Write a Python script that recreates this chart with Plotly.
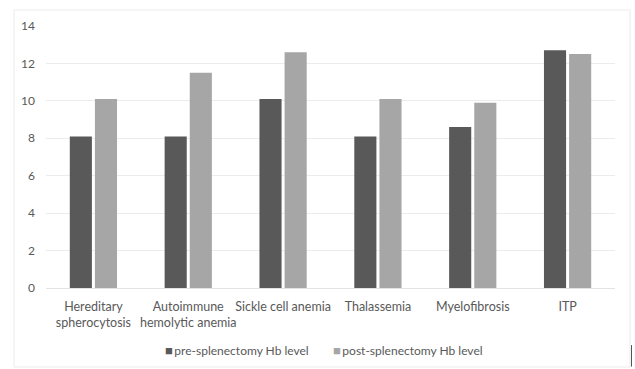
import plotly.graph_objects as go

# Hemoglobin levels before and after splenectomy, by diagnosis
categories = [
    "Hereditary<br>spherocytosis",
    "Autoimmune<br>hemolytic anemia",
    "Sickle cell anemia",
    "Thalassemia",
    "Myelofibrosis",
    "ITP",
]
pre_hb = [8.1, 8.1, 10.1, 8.1, 8.6, 12.7]
post_hb = [10.1, 11.5, 12.6, 10.1, 9.9, 12.5]
y_ticks = [0, 2, 4, 6, 8, 10, 12, 14]

series_names = ["pre-splenectomy Hb level", "post-splenectomy Hb level"]
series_colors = ["#595959", "#a6a6a6"]

FONT = "Lato"
TEXT_COLOR = "#595959"

fig = go.Figure()
for name, vals, color in zip(series_names, [pre_hb, post_hb], series_colors):
    fig.add_trace(go.Bar(
        x=categories, y=vals, name=name,
        marker=dict(color=color, line=dict(width=0)),
    ))

# compact legend: colored square glyph right next to each series name
legend_x = [0.335, 0.637]
annotations = [
    dict(
        xref="paper", yref="paper", x=lx, y=-0.2366,
        xanchor="center", yanchor="middle", showarrow=False,
        text=f"<span style='color:{c};font-size:13px'>■</span>\u2009{n}",
        font=dict(family=FONT, size=12, color=TEXT_COLOR),
    )
    for lx, n, c in zip(legend_x, series_names, series_colors)
]

fig.update_layout(
    width=635, height=369,
    margin=dict(l=46, r=20, t=26, b=81, autoexpand=False),
    paper_bgcolor="white", plot_bgcolor="white",
    barmode="group", bargap=0.47, bargroupgap=0.12,
    font=dict(family=FONT, size=12, color=TEXT_COLOR),
    showlegend=False,
    annotations=annotations,
    xaxis=dict(
        showgrid=False, showline=False, zeroline=False, ticks="",
        tickangle=0,
        tickfont=dict(family=FONT, size=12.5, color=TEXT_COLOR),
        ticklabelstandoff=9, automargin=False,
    ),
    yaxis=dict(
        range=[0, 14], tickvals=y_ticks, showgrid=True, gridcolor="#ececec",
        gridwidth=1, zeroline=True, zerolinecolor="#e3e3e3", zerolinewidth=1,
        showline=False, ticks="", ticklabelstandoff=10, automargin=False,
        tickfont=dict(family=FONT, size=12, color=TEXT_COLOR),
    ),
    shapes=[
        # outer chart frame
        dict(type="rect", xref="paper", yref="paper",
             x0=-0.0562, x1=1.0264, y0=-0.3015, y1=1.061,
             line=dict(color="#ebebeb", width=1), fillcolor="rgba(0,0,0,0)",
             layer="below"),
        # short dark edge mark at lower right
        dict(type="line", xref="paper", yref="paper",
             x0=1.029, x1=1.029, y0=-0.3, y1=-0.218,
             line=dict(color="#555555", width=1)),
    ],
)

fig.write_html("out.html")
